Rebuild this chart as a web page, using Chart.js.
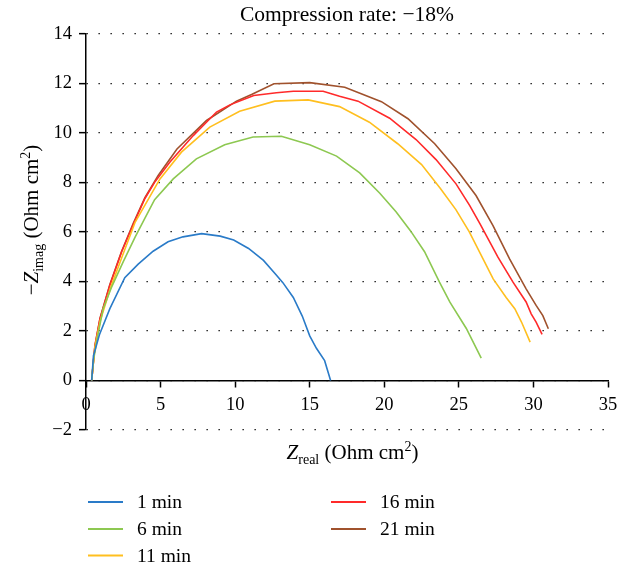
<!DOCTYPE html>
<html><head><meta charset="utf-8">
<script src="https://cdn.jsdelivr.net/npm/chart.js@4.4.0/dist/chart.umd.min.js"></script>
<style>html,body{margin:0;padding:0;background:#fff;}#wrap{width:634px;height:567px;}</style>
</head><body><div id="wrap"><canvas id="c" width="634" height="567"></canvas></div>
<script>
const SERIF = "'Liberation Serif', 'Times New Roman', serif";
const chartTitle = 'Compression rate: \u221218%';
const seriesLabels = ['1 min', '6 min', '11 min', '16 min', '21 min'];
const seriesColors = ['#2a7bc8', '#8dc851', '#ffbf1f', '#ff2a2a', '#a0522d'];
const xTicks = [0, 5, 10, 15, 20, 25, 30, 35];
const yTicks = [-2, 0, 2, 4, 6, 8, 10, 12, 14];

const zReal1 = [0.38, 0.5, 0.9, 1.6, 2.6, 3.5, 4.5, 5.5, 6.5, 7.75, 9.0, 9.9, 10.9, 11.9, 12.7, 13.2, 13.9, 14.5, 15.0, 15.45, 16.0, 16.4];
const zImag1 = [0, 1.0, 1.85, 2.9, 4.15, 4.7, 5.22, 5.6, 5.8, 5.93, 5.83, 5.67, 5.33, 4.85, 4.3, 3.95, 3.35, 2.6, 1.8, 1.3, 0.8, 0];

const zReal6 = [0.38, 0.5, 0.75, 1.15, 1.7, 2.5, 3.3, 3.9, 4.6, 5.85, 7.4, 9.3, 11.2, 13.1, 15.0, 16.8, 18.35, 19.7, 20.8, 21.75, 22.7, 23.7, 24.4, 25.5, 26.5];
const zImag6 = [0, 0.8, 1.7, 2.9, 3.75, 4.8, 5.8, 6.5, 7.3, 8.14, 8.95, 9.52, 9.83, 9.86, 9.52, 9.06, 8.38, 7.56, 6.8, 6.05, 5.2, 3.97, 3.16, 2.1, 0.9];

const zReal11 = [0.38, 0.6, 0.95, 1.65, 2.45, 3.3, 4.96, 6.4, 8.3, 10.3, 12.66, 14.9, 17.0, 19.0, 20.9, 22.5, 23.75, 24.8, 25.7, 26.62, 27.3, 28.17, 28.75, 29.2, 29.78];
const zImag11 = [0, 1.35, 2.4, 3.75, 5.05, 6.4, 8.14, 9.22, 10.23, 10.87, 11.28, 11.33, 11.06, 10.43, 9.56, 8.72, 7.76, 6.9, 6.0, 4.91, 4.1, 3.35, 2.9, 2.36, 1.55];

const zReal16 = [0.38, 0.6, 0.94, 1.6, 2.39, 3.17, 3.95, 4.6, 5.63, 7.19, 8.75, 9.65, 11.25, 12.77, 13.9, 15.9, 17.0, 18.24, 20.36, 22.13, 23.47, 24.81, 25.72, 26.41, 27.62, 28.63, 29.51, 29.85, 30.18, 30.58];
const zImag16 = [0, 1.4, 2.5, 3.85, 5.2, 6.3, 7.35, 8.0, 8.82, 9.89, 10.84, 11.13, 11.51, 11.62, 11.68, 11.68, 11.48, 11.28, 10.59, 9.73, 8.92, 7.94, 7.07, 6.33, 4.98, 3.97, 3.17, 2.69, 2.36, 1.86];

const zReal21 = [0.38, 0.6, 0.94, 1.6, 2.39, 3.17, 3.95, 4.84, 6.1, 8.08, 10.09, 11.1, 12.6, 15.0, 17.35, 19.81, 21.59, 23.38, 24.81, 26.15, 27.28, 28.4, 29.51, 30.18, 30.63, 31.0];
const zImag21 = [0, 1.42, 2.52, 3.88, 5.22, 6.35, 7.38, 8.28, 9.35, 10.5, 11.28, 11.55, 11.98, 12.03, 11.84, 11.26, 10.57, 9.56, 8.55, 7.47, 6.26, 4.91, 3.7, 3.03, 2.62, 2.09];

const realSets = [zReal1, zReal6, zReal11, zReal16, zReal21];
const imagSets = [zImag1, zImag6, zImag11, zImag16, zImag21];

const fmt = v => String(v).replace('-', '\u2212');

const datasets = seriesLabels.map((lab, i) => ({
  label: lab,
  data: realSets[i].map((x, j) => ({x: x, y: imagSets[i][j]})),
  borderColor: seriesColors[i],
  backgroundColor: seriesColors[i],
  borderWidth: 1.6,
  pointRadius: 0,
  tension: 0,
  fill: false,
  showLine: true
}));

function measureRich(ctx, parts, size) {
  let w = 0;
  for (const p of parts) {
    const s = p.k === 'sub' || p.k === 'sup' ? Math.round(size * 0.68) : size;
    ctx.font = (p.k === 'it' ? 'italic ' : '') + s + 'px ' + SERIF;
    w += ctx.measureText(p.t).width;
  }
  return w;
}
function paintRich(ctx, parts, size, x, y) {
  let cx = x;
  for (const p of parts) {
    const small = p.k === 'sub' || p.k === 'sup';
    const s = small ? Math.round(size * 0.68) : size;
    ctx.font = (p.k === 'it' ? 'italic ' : '') + s + 'px ' + SERIF;
    const dy = p.k === 'sub' ? size * 0.25 : (p.k === 'sup' ? -size * 0.4 : 0);
    ctx.fillText(p.t, cx, y + dy);
    cx += ctx.measureText(p.t).width;
  }
}

const xTitleParts = [{t: 'Z', k: 'it'}, {t: 'real', k: 'sub'}, {t: ' (Ohm cm', k: 'n'}, {t: '2', k: 'sup'}, {t: ')', k: 'n'}];
const yTitleParts = [{t: '\u2212', k: 'n'}, {t: 'Z', k: 'it'}, {t: 'imag', k: 'sub'}, {t: ' (Ohm cm', k: 'n'}, {t: '2', k: 'sup'}, {t: ')', k: 'n'}];

const extras = {
  id: 'extras',
  afterDraw(chart) {
    const ctx = chart.ctx;
    ctx.save();
    ctx.fillStyle = '#000';
    ctx.textBaseline = 'alphabetic';
    ctx.textAlign = 'left';
    const tsize = 21;
    const xw = measureRich(ctx, xTitleParts, tsize);
    paintRich(ctx, xTitleParts, tsize, 352.5 - xw / 2, 459);
    const yw = measureRich(ctx, yTitleParts, tsize);
    ctx.translate(38, 220);
    ctx.rotate(-Math.PI / 2);
    paintRich(ctx, yTitleParts, tsize, -yw / 2, 0);
    ctx.restore();

    ctx.save();
    const cols = [{lx: 88, tx: 137}, {lx: 331, tx: 380}];
    const rows = [502, 529, 555.5];
    const layout = [[0, 0], [0, 1], [0, 2], [1, 0], [1, 1]];
    ctx.font = '19.5px ' + SERIF;
    ctx.textBaseline = 'middle';
    ctx.textAlign = 'left';
    chart.data.datasets.forEach((ds, i) => {
      const c = cols[layout[i][0]];
      const y = rows[layout[i][1]];
      ctx.strokeStyle = ds.borderColor;
      ctx.lineWidth = 2;
      ctx.beginPath();
      ctx.moveTo(c.lx, y);
      ctx.lineTo(c.lx + 35, y);
      ctx.stroke();
      ctx.fillStyle = '#000';
      ctx.fillText(ds.label, c.tx, y + 1);
    });
    ctx.restore();
  }
};

new Chart(document.getElementById('c'), {
  type: 'line',
  data: {datasets: datasets},
  plugins: [extras],
  options: {
    responsive: false,
    animation: false,
    devicePixelRatio: 1,
    layout: {padding: {left: 0, right: 26, top: 0, bottom: 137}},
    plugins: {
      legend: {display: false},
      tooltip: {enabled: false},
      title: {
        display: true, text: chartTitle, fullSize: false, color: '#000',
        font: {family: SERIF, size: 21.5, weight: 'normal'},
        padding: {top: 2, bottom: 6}
      }
    },
    scales: {
      x: {
        type: 'linear', min: 0, max: 35, position: {y: 0},
        afterBuildTicks: s => { s.ticks = xTicks.map(v => ({value: v})); },
        grid: {drawOnChartArea: false, drawTicks: true, tickLength: 6, tickColor: '#000', tickWidth: 1.5},
        border: {color: '#000', width: 1.5},
        ticks: {color: '#000', font: {family: SERIF, size: 18.5}, padding: 8, maxRotation: 0, autoSkip: false, callback: v => fmt(v)}
      },
      y: {
        type: 'linear', min: -2, max: 14, position: 'left',
        afterBuildTicks: s => { s.ticks = yTicks.map(v => ({value: v})); },
        afterFit: s => { s.width = 86; },
        grid: {color: '#000', lineWidth: 1.3, drawTicks: true, tickLength: 7, tickColor: '#000', tickWidth: 1.5},
        border: {color: '#000', width: 1.5, dash: [1.3, 10.7]},
        ticks: {color: '#000', font: {family: SERIF, size: 18.5}, padding: 7, autoSkip: false, callback: v => fmt(v)}
      }
    }
  }
});
</script>
</body></html>
